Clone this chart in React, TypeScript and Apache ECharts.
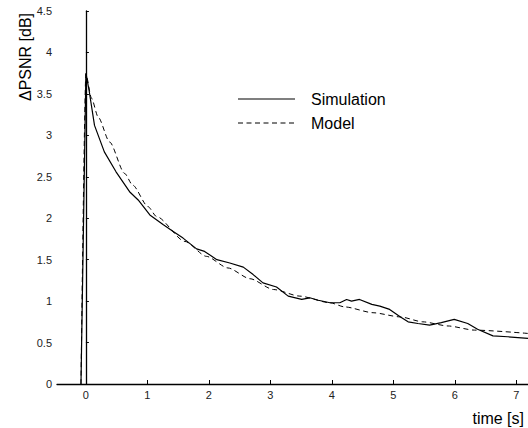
import React, { useEffect, useRef } from "react";
import * as echarts from "echarts";

// Time axis (seconds) and measured/modelled PSNR gain (dB)
const simTime = [
  -0.08, 0, 0.05, 0.14, 0.3, 0.49, 0.71, 0.85, 1.04, 1.26, 1.42, 1.58, 1.8, 1.93,
  2.13, 2.34, 2.56, 2.72, 2.88, 3.1, 3.29, 3.51, 3.64, 3.78, 3.97, 4.13, 4.24, 4.32,
  4.45, 4.65, 4.78, 4.94, 5.11, 5.24, 5.4, 5.59, 5.78, 5.99, 6.21, 6.37, 6.62, 6.86,
  7.19,
];
const simValue = [
  0, 3.75, 3.55, 3.12, 2.8, 2.56, 2.32, 2.22, 2.04, 1.92, 1.84, 1.76, 1.63, 1.6,
  1.5, 1.46, 1.41, 1.32, 1.22, 1.17, 1.06, 1.02, 1.04, 1.01, 0.98, 0.98, 1.02, 1.0,
  1.02, 0.96, 0.94, 0.9, 0.81, 0.75, 0.73, 0.71, 0.74, 0.78, 0.73, 0.66, 0.58, 0.57,
  0.55,
];

const modelTime = [
  -0.08, 0, 0.09, 0.2, 0.385, 0.63, 0.76, 1.01, 1.15, 1.61, 1.96, 2.31, 2.67, 3.05,
  3.48, 3.97, 4.21, 4.67, 5.11, 5.48, 5.89, 6.32, 7.19,
];
const modelValue = [
  0, 3.74, 3.45, 3.22, 2.92, 2.54, 2.4, 2.14, 2.02, 1.72, 1.54, 1.4, 1.27, 1.14,
  1.06, 0.98, 0.93, 0.86, 0.81, 0.75, 0.7, 0.65, 0.61,
];

const xTicks = [0, 1, 2, 3, 4, 5, 6, 7];
const seriesNames = ["Simulation", "Model"];
const yLabel = "\u0394PSNR [dB]";
const xLabel = "time [s]";

const pairs = (xs: number[], ys: number[]) => xs.map((x, i) => [x, ys[i]]);

const FONT = "Liberation Sans, Arial, Helvetica, sans-serif";
const DASH = [5, 3.5];

// Key entry: a short line sample followed by the series name
const keyEntry = (y: number, label: string, dash: number[] | null) => ({
  type: "group",
  children: [
    {
      type: "line",
      shape: { x1: 238, y1: y, x2: 295, y2: y },
      style: { stroke: "#000", lineWidth: dash ? 1 : 1.2, lineDash: dash || undefined },
    },
    {
      type: "text",
      x: 311,
      y,
      style: {
        text: label,
        fill: "#000",
        font: `16px ${FONT}`,
        textAlign: "left",
        textVerticalAlign: "middle",
      },
    },
  ],
});

export default function App() {
  const ref = useRef<HTMLDivElement>(null);

  useEffect(() => {
    if (!ref.current) return;
    const chart = echarts.init(ref.current, null, { renderer: "svg" });
    chart.setOption({
      animation: false,
      backgroundColor: "#fff",
      grid: { left: 57, right: 0, top: 11, bottom: 44, containLabel: false },
      xAxis: {
        type: "value",
        min: -0.47,
        max: 7.19,
        axisLine: { show: true, lineStyle: { color: "#000", width: 1.3 } },
        axisTick: {
          show: true,
          inside: true,
          length: 4,
          customValues: xTicks,
          lineStyle: { color: "#000", width: 1 },
        },
        axisLabel: {
          customValues: xTicks,
          color: "#222",
          fontSize: 11,
          fontFamily: FONT,
          margin: 5,
        },
        splitLine: { show: false },
      },
      yAxis: {
        type: "value",
        min: 0,
        max: 4.5,
        interval: 0.5,
        axisLine: { show: true, lineStyle: { color: "#000", width: 1.3 } },
        axisTick: {
          show: true,
          inside: true,
          length: 3,
          lineStyle: { color: "#000", width: 1 },
        },
        axisLabel: {
          color: "#222",
          fontSize: 11,
          fontFamily: FONT,
          margin: 5,
        },
        splitLine: { show: false },
      },
      graphic: [
        keyEntry(99, seriesNames[0], null),
        keyEntry(123, seriesNames[1], DASH),
        {
          type: "text",
          x: 25,
          y: 57,
          rotation: Math.PI / 2,
          style: {
            text: yLabel,
            fill: "#000",
            font: `16px ${FONT}`,
            textAlign: "center",
            textVerticalAlign: "middle",
          },
        },
        {
          type: "text",
          x: 524,
          y: 418,
          style: {
            text: xLabel,
            fill: "#000",
            font: `16px ${FONT}`,
            textAlign: "right",
            textVerticalAlign: "middle",
          },
        },
      ],
      series: [
        {
          name: seriesNames[0],
          type: "line",
          data: pairs(simTime, simValue),
          symbol: "none",
          smooth: false,
          lineStyle: { color: "#000", width: 1.2, type: "solid" },
          itemStyle: { color: "#000" },
        },
        {
          name: seriesNames[1],
          type: "line",
          data: pairs(modelTime, modelValue),
          symbol: "none",
          smooth: 0.25,
          smoothMonotone: "x",
          lineStyle: { color: "#000", width: 1, type: DASH },
          itemStyle: { color: "#000" },
        },
      ],
    });
    return () => chart.dispose();
  }, []);

  return (
    <div
      ref={ref}
      style={{ position: "fixed", left: 0, top: 0, width: 528, height: 428, background: "#fff" }}
    />
  );
}
